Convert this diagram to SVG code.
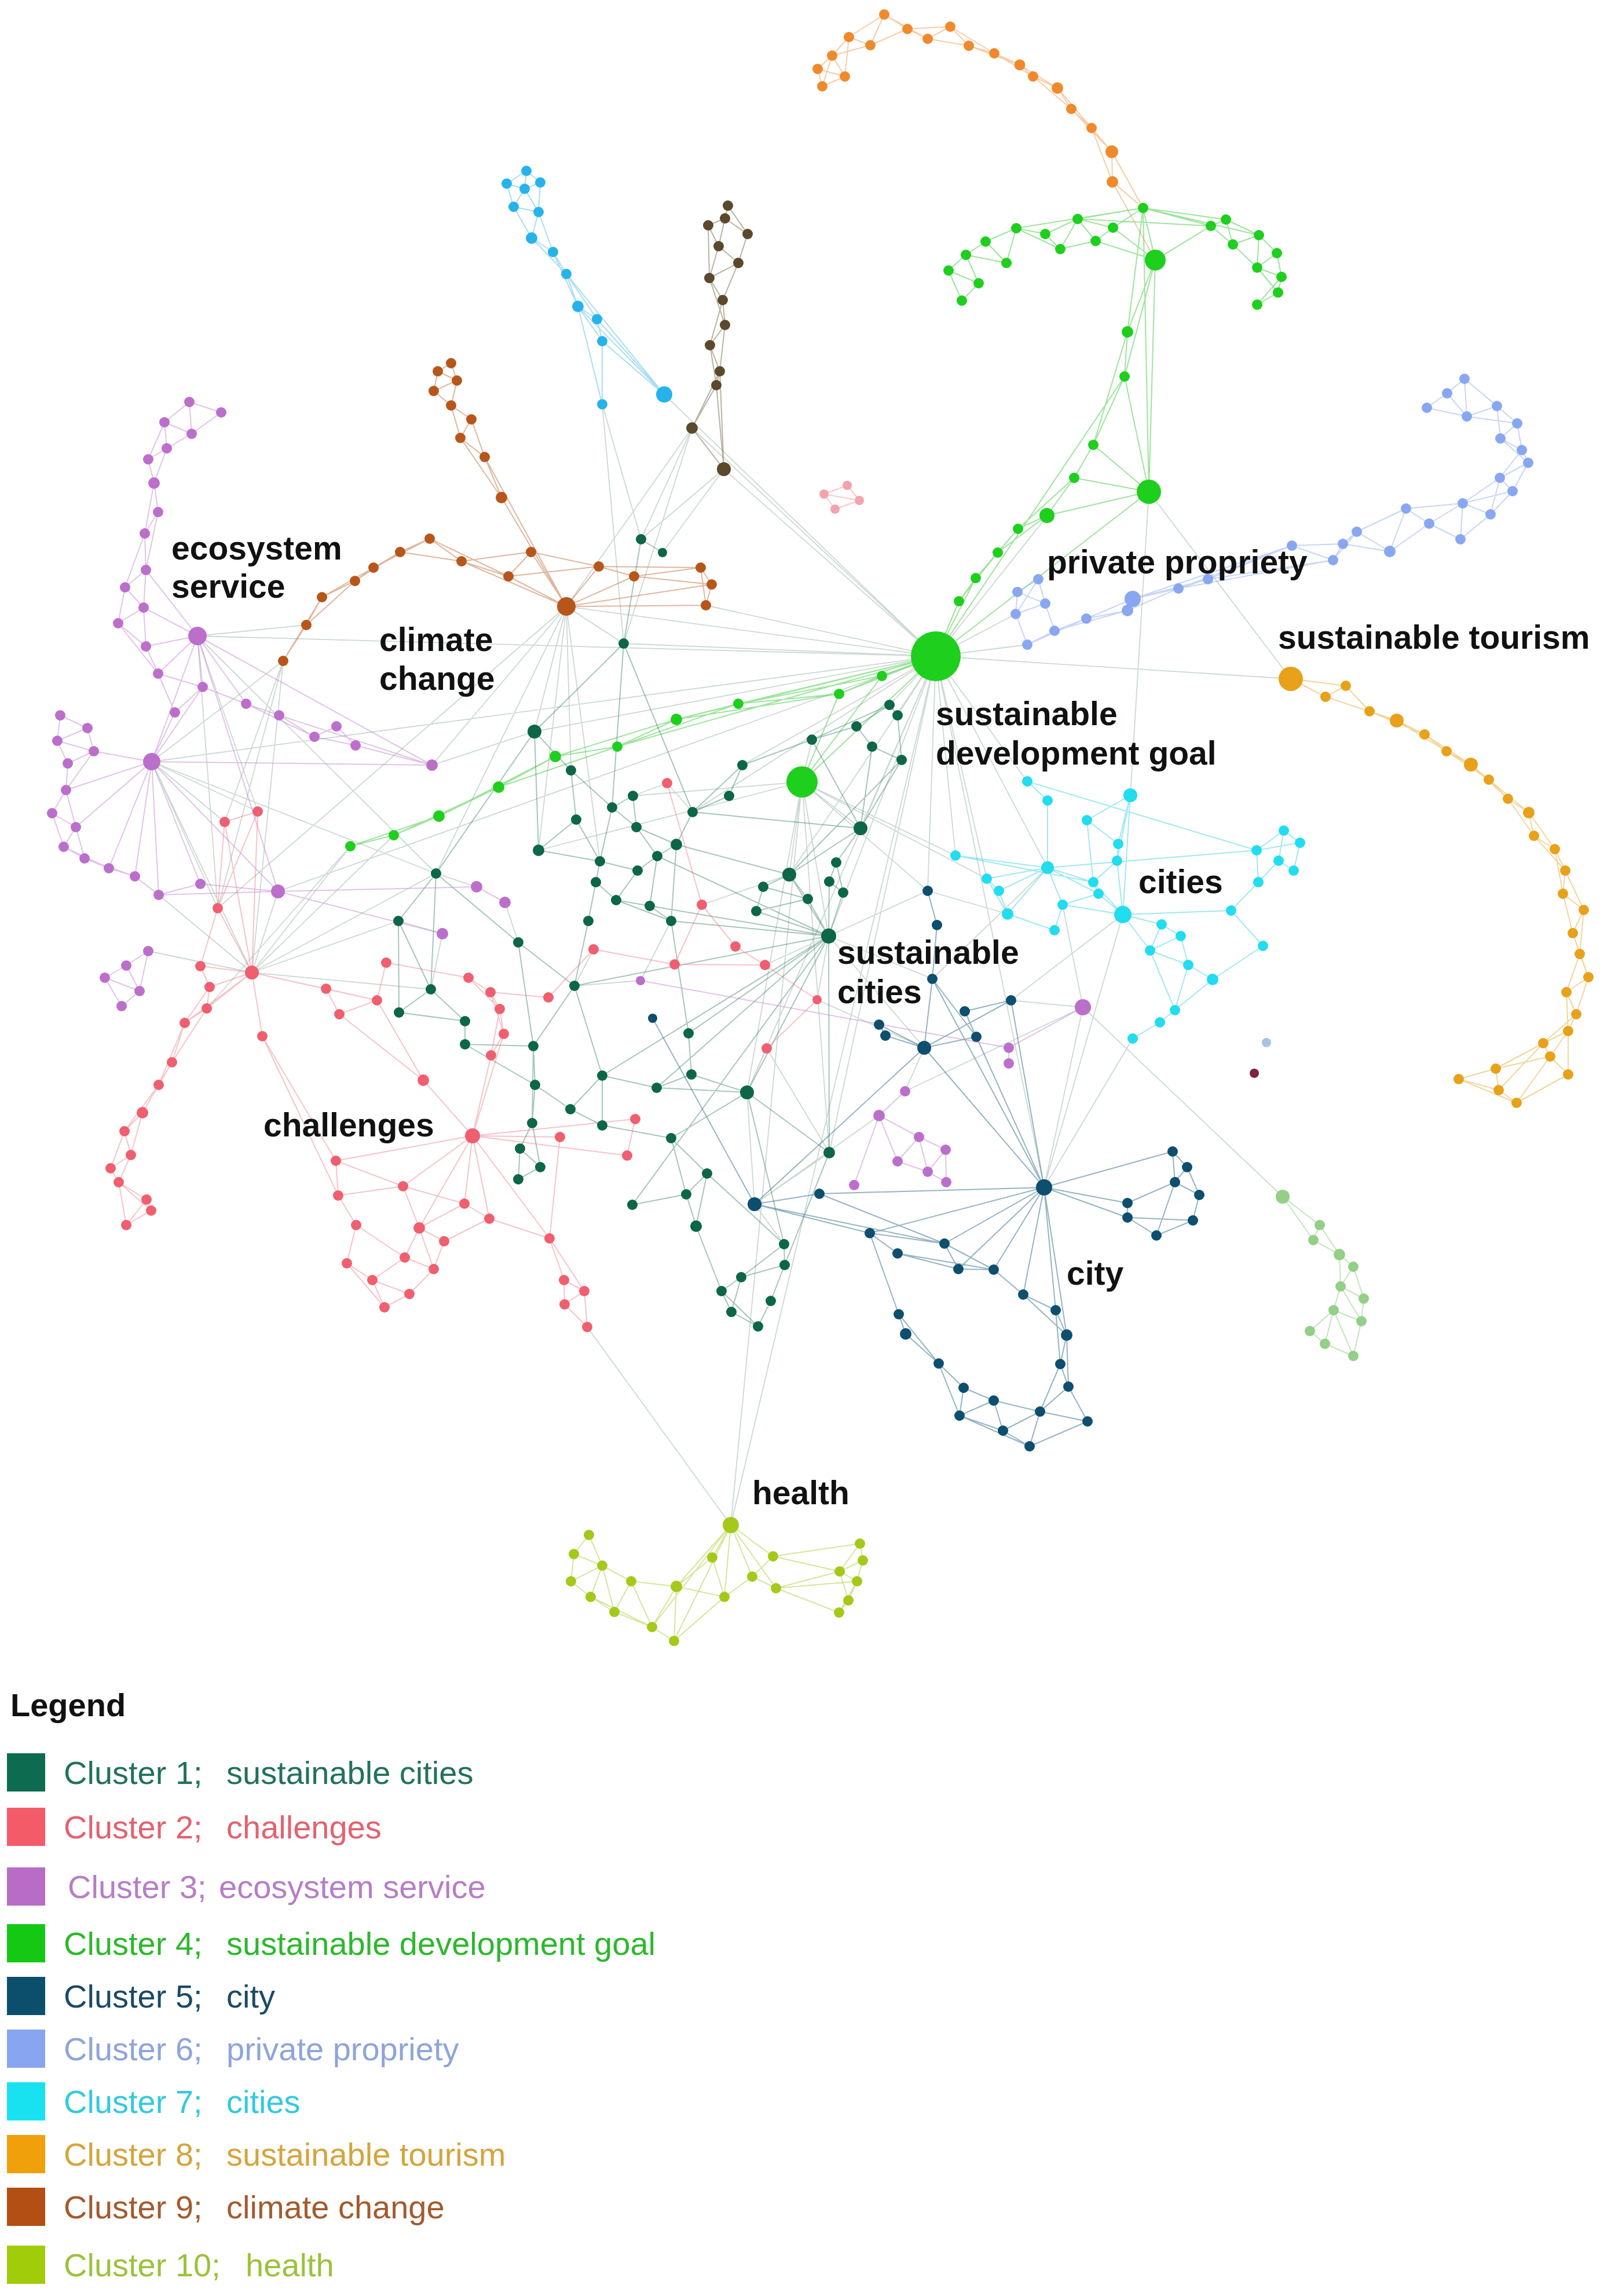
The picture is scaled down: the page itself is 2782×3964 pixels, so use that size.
<svg xmlns="http://www.w3.org/2000/svg" width="2782" height="3964" viewBox="0 0 2782 3964">
<style>
.e{fill:none;stroke-width:2;stroke-linecap:round;stroke-linejoin:round}
.ex{stroke:#9ab3a5;stroke-opacity:.5;stroke-width:1.8}
.eo{stroke:#ef9a50;stroke-opacity:.5}
.e4{stroke:#3ec93e;stroke-opacity:.5}
.e6{stroke:#9bb3ef;stroke-opacity:.55}
.e8{stroke:#e4ad3a;stroke-opacity:.5}
.e7{stroke:#40d3e6;stroke-opacity:.5}
.e5{stroke:#2b6a85;stroke-opacity:.5}
.e1{stroke:#3c806a;stroke-opacity:.45}
.e2{stroke:#ec7b88;stroke-opacity:.45}
.e3{stroke:#c48ad0;stroke-opacity:.5}
.e9{stroke:#c07040;stroke-opacity:.5}
.es{stroke:#52bde8;stroke-opacity:.5}
.ek{stroke:#76674a;stroke-opacity:.5}
.ep{stroke:#f2a4ad;stroke-opacity:.6}
.el{stroke:#9fd294;stroke-opacity:.6}
.e10{stroke:#b3d14a;stroke-opacity:.55}
.n1{fill:#0d6647}.n2{fill:#ef5f6f}.n3{fill:#bb6fcb}.n4{fill:#1ecf1e}.n5{fill:#0e4e6e}
.n6{fill:#89a7f0}.n7{fill:#22dcef}.n8{fill:#e7a11a}.n9{fill:#b7561b}.n10{fill:#a4c91b}
.no{fill:#ef8a2c}.ns{fill:#27b3ea}.nk{fill:#5b492d}.nl{fill:#93cf87}.np{fill:#f2a4ad}
.lbl{font-family:'Liberation Sans',Arial,sans-serif;font-weight:bold;font-size:57px;fill:#111}
.lg{font-family:'Liberation Sans',Arial,sans-serif;font-size:56px}
</style>
<rect width="2782" height="3964" fill="#fff"/>
<g id="connectors">
<path class="e ex" d="M1616 1133L1147 681M1616 1133L1250 810M1616 1133L1195 739M1616 1133L978 1047M1616 1133L341 1098M1616 1133L1219 1045M1616 1133L923 1263M1616 1133L1077 1111M1616 1133L262 1315M1616 1133L480 1539M1616 1133L1431 1616M1616 1133L1290 1886M1616 1133L1803 2050M1616 1133L1809 1498M1616 1133L1774 1349M1616 1133L2229 1172M1616 1133L1774 1113M1616 1133L1754 1060M1616 1133L1536 1217M1616 1133L1550 1235M1616 1133L1486 1430M1616 1133L1196 1402M1616 1133L1650 1477M1616 1133L1602 1538M1616 1133L1704 1517M1616 1133L1363 1510M1616 1133L1282 1321M1616 1133L1432 1990M1984 849L2229 1172M1984 849L1952 1373M1385 1350L1262 2633M1616 1133L1262 2633M1385 1350L1431 1616M1385 1350L1363 1510M1385 1350L1290 1886M1385 1350L1432 1990M1385 1350L1486 1430M1385 1350L1402 1277M1385 1350L1650 1477M1385 1350L1704 1517M1385 1350L1602 1538M1385 1350L1093 1374M1385 1350L930 1468M978 1047L923 1263M978 1047L930 1468M978 1047L376 1568M978 1047L753 1508M978 1047L746 1321M978 1047L1077 1111M978 1047L986 1330M978 1047L1036 1487M1195 739L978 1047M1195 739L1107 931M1195 739L1077 1111M1250 810L1107 931M1250 810L1144 954M1040 698L1077 1111M1040 698L1107 931M341 1098L529 1079M341 1098L445 1401M341 1098L376 1568M341 1098L753 1508M262 1315L445 1401M262 1315L388 1419M262 1315L376 1568M262 1315L435 1679M262 1315L489 1141M262 1315L753 1508M435 1679L605 1461M435 1679L680 1442M435 1679L480 1539M435 1679L274 1545M435 1679L256 1642M435 1679L753 1508M435 1679L744 1708M435 1679L688 1590M435 1679L489 1141M489 1141L388 1419M489 1141L376 1568M605 1461L357 1741M823 1531L753 1508M872 1558L895 1627M764 1612L688 1590M764 1612L744 1708M1025 1639L992 1702M1106 1693L1159 1590M1106 1693L992 1702M1431 1616L1610 1690M1431 1616L1596 1809M1431 1616L1602 1538M1431 1616L1411 1726M1803 2050L1939 1579M1803 2050L1956 1793M1803 2050L1870 1739M1870 1739L2215 2066M1870 1739L1746 1727M1870 1739L1835 1562M1746 1727L1939 1579M1303 2079L1290 1886M1303 2079L1432 1990M1303 2079L1354 2148M1324 1810L1290 1886M1324 1810L1432 1990M1262 2633L1014 2291M1563 1884L1870 1739M1518 1926L1303 2079M1596 1809L1563 1884M1411 1726L1596 1809M1321 1666L1602 1538M1212 1562L1363 1510M746 1321L923 1263M1152 1352L1196 1402M1152 1352L1093 1374M1610 1690L1809 1498M1602 1538L1740 1578M1616 1133L1809 890"/>
<path class="e eo" d="M1527 25L1567 50L1602 67L1641 46L1673 79L1717 92L1761 112L1784 132L1826 152L1850 188L1885 221L1920 262L1921 314L1974 359M1567 50L1641 46M1602 67L1673 79M1641 46L1717 92M1673 79L1761 112M1717 92L1784 132M1761 112L1826 152M1784 132L1850 188M1826 152L1885 221M1850 188L1920 262M1885 221L1921 314M1920 262L1974 359M1921 314L1995 449M1527 25L1466 64L1503 78L1527 25L1602 67M1503 78L1567 50M1466 64L1437 96L1412 119L1420 149L1459 132L1437 96L1503 78M1412 119L1459 132M1437 96L1420 149M1466 64L1459 132"/>
<path class="e e4" d="M1974 359L1922 393L1861 378L1805 404L1755 394L1702 417L1668 440L1638 467L1661 519M1974 359L1861 378M1922 393L1892 416L1831 430L1805 404M1861 378L1892 416M1861 378L1831 430M1831 430L1755 394L1738 454L1702 417M1755 394L1702 417M1738 454L1668 440L1690 489L1638 467M1690 489L1661 519M1974 359L1995 449L1922 393M1995 449L1892 416M1974 359L2091 390L2117 379L2174 406L2205 437L2213 478L2207 505L2171 526M1995 449L2091 390L2129 422L2117 379M2129 422L2174 406L2171 462L2129 422M2171 462L2205 437M2171 462L2213 478M2171 462L2207 505M2213 478L2171 526M1974 359L2117 379M1974 359L1755 394M1974 359L2174 406M1861 378L2091 390M1974 359L1947 573L1942 650L1888 768L1855 825L1808 890L1758 913L1723 954L1685 998L1656 1038L1616 1133M1995 449L1947 573M1995 449L1942 650M1947 573L1888 768M1942 650L1984 849M1888 768L1984 849L1855 825M1995 449L1984 849M1974 359L1984 849M1984 849L1808 890M1855 825L1758 913M1808 890L1723 954M1758 913L1685 998M1723 954L1656 1038M1685 998L1616 1133M1984 849L1616 1133M1942 650L1616 1133M1616 1133L1523 1167L1449 1198L1275 1215L1168 1242L1066 1289L959 1306L861 1359L758 1409L680 1442L605 1461M1616 1133L1449 1198M1523 1167L1275 1215M1449 1198L1168 1242M1275 1215L1066 1289M1168 1242L959 1306M1066 1289L861 1359M959 1306L758 1409M861 1359L680 1442M758 1409L605 1461M1616 1133L1385 1350M1523 1167L1385 1350M1449 1198L1385 1350M1616 1133L1275 1215M1616 1133L1168 1242M1616 1133L1066 1289"/>
<path class="e e6" d="M2529 654L2499 679L2464 704M2529 654L2533 719L2499 679M2464 704L2533 719L2585 701L2529 654M2585 701L2620 731L2591 757L2628 777L2639 799L2590 825L2612 848L2574 888L2526 869L2468 904L2428 878L2400 952L2343 918L2319 939L2302 967L2231 942L2086 1000L2035 1016L1956 1034L1947 1054L1876 1068L1821 1089L1774 1113M2533 719L2620 731M2585 701L2591 757M2620 731L2628 777M2591 757L2639 799M2628 777L2590 825M2639 799L2612 848M2590 825L2574 888M2590 825L2526 869M2612 848L2526 869M2574 888L2522 931L2526 869M2522 931L2468 904M2468 904L2400 952M2526 869L2428 878M2428 878L2343 918M2400 952L2319 939M2343 918L2302 967M2319 939L2231 942M2302 967L2086 1000M2231 942L2035 1016M2086 1000L1956 1034M2035 1016L1947 1054M1956 1034L1876 1068M1947 1054L1821 1089M1876 1068L1774 1113M1757 1022L1793 1000L1805 1042L1754 1060L1757 1022L1805 1042M1793 1000L1754 1060M1754 1060L1774 1113M1805 1042L1821 1089M2231 942L1956 1034M2302 967L2035 1016"/>
<path class="e e8" d="M2229 1172L2289 1203L2324 1184L2365 1228L2412 1244L2460 1268L2498 1297L2540 1320L2571 1346L2604 1379L2640 1403L2649 1443L2685 1466L2703 1503L2699 1543L2735 1571L2716 1611L2728 1647L2743 1687L2705 1713L2722 1751L2708 1780L2665 1801L2677 1824L2708 1855M2229 1172L2324 1184L2365 1228M2289 1203L2412 1244L2498 1297L2571 1346L2640 1403L2685 1466L2699 1543L2716 1611L2743 1687L2722 1751L2665 1801M2365 1228L2460 1268L2540 1320L2604 1379L2649 1443L2703 1503L2735 1571L2728 1647L2705 1713L2708 1780L2677 1824M2665 1801L2583 1845L2519 1863L2588 1882L2619 1904L2708 1855M2677 1824L2583 1845L2588 1882M2677 1824L2619 1904M2519 1863L2619 1904M2665 1801L2588 1882M2708 1780L2708 1855"/>
<path class="e e7" d="M1774 1349L1809 1382M1952 1373L1931 1457L1929 1486L1939 1579M1952 1373L1929 1486M1877 1416L1931 1457M1877 1416L1888 1523L1929 1486M1952 1373L1939 1579M1809 1498L1704 1517L1725 1538L1809 1498L1888 1523L1897 1543L1809 1498L1740 1578L1725 1538M1704 1517L1740 1578L1821 1606L1835 1562L1897 1543M1809 1498L1835 1562M1650 1477L1809 1498M1888 1523L1939 1579L1897 1543M1835 1562L1939 1579M1939 1579L2006 1596L2039 1616L2052 1666L2094 1691L2029 1744L2003 1765L1956 1793M1939 1579L1986 1641L2052 1666L2029 1744L1986 1641L2006 1596M2039 1616L1986 1641M2126 1572L2173 1523L2170 1468L2217 1434L2245 1455L2234 1503L2208 1486L2173 1523M2170 1468L2245 1455M2217 1434L2208 1486M2126 1572L2181 1633L2094 1691M1939 1579L2126 1572M1809 1498L2170 1468M1774 1349L2170 1468M1877 1416L1952 1373M1650 1477L1888 1523M1809 1382L1809 1498"/>
<path class="e e5" d="M1602 1538L1618 1597L1610 1690L1596 1809L1686 1790L1666 1746L1746 1727L1596 1809M1610 1690L1686 1790M1518 1769L1529 1788L1596 1809L1518 1769M1596 1809L1803 2050L1610 1690M1686 1790L1803 2050L1746 1727M1803 2050L2025 1988L2050 2015L2071 2063L2060 2107L1997 2133L1947 2102L1947 2077L2029 2041L2025 1988M2050 2015L2029 2041L2071 2063M1947 2102L2060 2107M2029 2041L1997 2133M1803 2050L1947 2077M1803 2050L1947 2102M1803 2050L1502 2129M1803 2050L1631 2147M1803 2050L1655 2191M1803 2050L1716 2192M1803 2050L1767 2235M1803 2050L1823 2262M1803 2050L1842 2305M1803 2050L1415 2061M1303 2079L1415 2061L1631 2147M1303 2079L1502 2129L1550 2164L1655 2191L1716 2192L1767 2235L1823 2262L1842 2305L1831 2355L1845 2394L1878 2454L1796 2437L1778 2497L1732 2470L1657 2444L1621 2354L1564 2303L1552 2269L1621 2354M1303 2079L1631 2147L1716 2192M1502 2129L1631 2147L1655 2191M1550 2164L1716 2192M1767 2235L1842 2305M1823 2262L1831 2355M1842 2305L1845 2394M1831 2355L1796 2437L1845 2394M1878 2454L1778 2497M1796 2437L1732 2470M1657 2444L1778 2497M1621 2354L1664 2396L1716 2418L1796 2437M1664 2396L1657 2444L1716 2418L1732 2470M1502 2129L1552 2269M1303 2079L1596 1809M1127 1758L1303 2079"/>
<path class="e e1" d="M1107 931L1144 954M1107 931L1077 1111L1057 1394M1077 1111L1196 1402M923 1263L986 1330L1057 1394L1093 1374L1099 1428L1057 1394L1036 1487L995 1415L986 1330M923 1263L930 1468L995 1415M923 1263L753 1508M1099 1428L1168 1458L1196 1402M1099 1428L1135 1478L1168 1458M1196 1402L1282 1321L1259 1374L1196 1402M930 1468L1036 1487L1101 1503L1135 1478L1122 1564L1064 1554L1101 1503M1036 1487L1029 1523L1064 1554L1159 1590L1122 1564M1029 1523L1016 1590L992 1702M1159 1590L1189 1784M753 1508L688 1590L744 1708L753 1508L895 1627L992 1702L921 1806L895 1627M688 1590L689 1748L744 1708L803 1763L689 1748M803 1763L803 1803L921 1806M803 1803L924 1873L921 1806L919 1939L924 1873L985 1915M992 1702L1040 1857L1134 1878L1194 1855L1290 1886L1134 1878M1194 1855L1189 1784M1040 1857L985 1915L1040 1943L1159 1965L1290 1886L1432 1990M1040 1857L1040 1943M919 1939L898 1983L933 2015L895 2036L898 1983M919 1939L933 2015M1159 1965L1221 2026L1185 2062L1159 1965M1185 2062L1092 2080M1221 2026L1202 2117L1185 2062M1221 2026L1354 2148L1355 2184L1280 2205L1354 2148M1355 2184L1331 2246L1309 2290L1263 2265L1280 2205L1246 2229L1263 2265M1246 2229L1309 2290M1202 2117L1246 2229M1536 1217L1550 1235L1557 1312L1506 1289L1479 1254L1536 1217M1479 1254L1402 1277L1486 1430L1506 1289M1557 1312L1486 1430M1282 1321L1402 1277M1486 1430L1444 1489L1432 1522L1456 1541L1444 1489M1432 1522L1431 1616L1456 1541M1486 1430L1363 1510L1318 1531L1306 1573L1395 1552L1363 1510M1318 1531L1395 1552L1431 1616L1363 1510M1306 1573L1431 1616M1431 1616L1290 1886M1431 1616L1189 1784M1431 1616L1432 1990M1431 1616L1159 1590M1431 1616L1122 1564M1431 1616L1135 1478M1363 1510L1168 1458M1486 1430L1196 1402M1431 1616L1134 1878M1431 1616L1040 1857M1431 1616L992 1702M1431 1616L1092 2080M1290 1886L1354 2148M1432 1990L1355 2184M1168 1458L1159 1590M1077 1111L923 1263M1536 1217L1402 1277M1557 1312L1363 1510"/>
<path class="e e2" d="M445 1401L388 1419L376 1568L445 1401L435 1679L388 1419M376 1568L435 1679L346 1668L376 1568M346 1668L362 1704L357 1741L319 1766L297 1834L274 1873L246 1921L215 1953L226 1994L191 2017L205 2041L253 2071L261 2090L218 2115L205 2041M435 1679L362 1704M435 1679L357 1741M435 1679L319 1766M362 1704L319 1766M357 1741L297 1834M319 1766L274 1873M297 1834L246 1921M274 1873L215 1953M246 1921L226 1994M215 1953L191 2017M226 1994L205 2041M205 2041L261 2090M253 2071L218 2115M435 1679L453 1789L580 2004M453 1789L584 2064M435 1679L563 1707L586 1751L651 1727L563 1707M435 1679L651 1727L667 1662M651 1727L731 1865L816 1961M586 1751L731 1865M580 2004L584 2064L615 2115L599 2181L643 2210L664 2257L707 2234L749 2191L767 2143L845 2104L802 2078L816 1961L845 2104M580 2004L696 2048L724 2120L767 2143M696 2048L802 2078L724 2120L699 2171L749 2191M584 2064L696 2048M615 2115L699 2171L643 2210L707 2234M599 2181L664 2257M724 2120L749 2191M816 1961L724 2120M816 1961L696 2048M816 1961L580 2004M845 2104L949 2138L974 2210L1009 2229L949 2138M974 2210L975 2252L1014 2291L1009 2229L975 2252M816 1961L949 2138M809 1688L847 1713L863 1742L870 1785L848 1822L863 1742M809 1688L863 1742M847 1713L870 1785M816 1961L848 1822M816 1961L870 1785M816 1961L967 1963L949 2138M816 1961L1097 1932L1083 1995M816 1961L1083 1995M847 1713L947 1722L1025 1639M1025 1639L1165 1665L1321 1666L1270 1634M1212 1562L1270 1634M1321 1666L1411 1726L1324 1810M1165 1665L1212 1562M667 1662L809 1688M1152 1352L1212 1562"/>
<path class="e e3" d="M327 694L382 712L331 749L327 694L284 729L331 749L288 774L284 729L256 793L288 774L266 834L256 793M266 834L273 884L250 921L252 984L216 1014L248 1049L204 1076L252 1116L273 1163L350 1186L302 1230L273 1163M266 834L250 921M273 884L252 984M250 921L216 1014M252 984L248 1049M216 1014L204 1076M248 1049L252 1116M204 1076L273 1163M341 1098L248 1049M341 1098L252 984M341 1098L252 1116M341 1098L273 1163M341 1098L350 1186M341 1098L425 1215L482 1235L543 1272L581 1254L614 1287L543 1272M350 1186L425 1215L543 1272M341 1098L262 1315L302 1230M262 1315L350 1186M341 1098L746 1321M482 1235L746 1321M614 1287L746 1321M104 1235L151 1257L162 1297L117 1318L99 1279L104 1235M151 1257L99 1279L162 1297M117 1318L114 1364L90 1404L131 1428L110 1462L146 1482L188 1499L233 1513L274 1545L346 1526L480 1539M162 1297L114 1364L131 1428L146 1482L233 1513M90 1404L110 1462L188 1499M274 1545L480 1539M262 1315L274 1545M262 1315L346 1526M262 1315L233 1513M262 1315L188 1499M262 1315L131 1428M262 1315L114 1364M262 1315L162 1297M262 1315L480 1539M256 1642L218 1667L181 1688L210 1737L241 1711L256 1642M218 1667L241 1711L181 1688M1563 1884L1518 1926L1587 1963L1633 1985L1634 2041L1602 2023L1550 2005L1518 1926M1587 1963L1550 2005M1587 1963L1602 2023L1633 1985M1518 1926L1475 2046M1742 1809L1742 1836M1870 1739L1742 1809M262 1315L746 1321M341 1098L480 1539M480 1539L823 1531L872 1558M480 1539L764 1612M1106 1693L1742 1809"/>
<path class="e e9" d="M779 627L756 641L789 657L779 627M756 641L749 675L789 657L779 700L749 675M779 700L814 724L795 756L779 700M814 724L837 789L795 756L866 859L837 789L978 1047L866 859M978 1047L917 953L878 995L797 969L742 930L691 953L645 980L613 1003L556 1031L529 1079L489 1141M917 953L797 969M878 995L742 930M797 969L691 953M742 930L645 980M691 953L613 1003M645 980L556 1031M613 1003L529 1079M556 1031L489 1141M978 1047L878 995M978 1047L797 969M978 1047L1034 978L1095 995L1210 980L1229 1009L1219 1045L978 1047L1095 995M1034 978L1210 980M1095 995L1229 1009M1210 980L1219 1045M978 1047L1229 1009M917 953L1034 978M878 995L1034 978"/>
<path class="e es" d="M909 295L875 317L906 326L909 295L933 315L906 326L887 357L875 317M906 326L930 366L933 315M887 357L930 366L918 411L887 357M930 366L955 435L918 411L978 473L955 435L998 529L978 473L1031 551L998 529L1040 589L1031 551L1147 681L1040 589M998 529L1147 681M978 473L1147 681M1040 589L1040 698M998 529L1040 698"/>
<path class="e ek" d="M1257 355L1252 377L1223 389L1241 425L1252 377L1291 404L1257 355M1291 404L1275 454L1241 425L1225 480L1223 389M1275 454L1225 480L1248 518L1275 454M1248 518L1252 561L1226 596L1243 641L1237 665L1195 739L1250 810L1237 665M1225 480L1252 561M1248 518L1226 596M1252 561L1243 641M1226 596L1237 665M1243 641L1195 739M1243 641L1250 810"/>
<path class="e ep" d="M1423 853L1463 838L1484 864L1442 879ZM1423 853L1484 864"/>
<path class="e el" d="M2215 2066L2279 2115L2268 2141L2215 2066M2279 2115L2313 2166L2268 2141M2313 2166L2337 2187L2315 2221L2313 2166M2337 2187L2355 2242L2315 2221L2303 2262L2351 2281L2355 2242M2303 2262L2262 2298L2288 2320L2303 2262L2337 2341L2351 2281M2288 2320L2337 2341M2315 2221L2351 2281"/>
<path class="e e10" d="M1262 2633L1230 2689L1168 2739L1251 2757L1230 2689M1262 2633L1251 2757M1262 2633L1299 2722L1335 2687L1262 2633L1340 2742L1299 2722L1251 2757M1262 2633L1168 2739M1262 2633L1126 2809M1262 2633L1164 2833M1168 2739L1126 2809L1164 2833L1168 2739L1090 2730L1126 2809L1061 2783L1090 2730L1040 2703L1061 2783L1020 2757L1040 2703L1017 2650L991 2683L1040 2703L986 2730L1020 2757L1126 2809M991 2683L986 2730M1251 2757L1164 2833M1335 2687L1450 2713L1340 2742L1480 2730M1340 2742L1449 2784M1485 2665L1490 2694L1450 2713L1485 2665M1490 2694L1480 2730L1450 2713L1465 2763L1480 2730L1449 2784L1465 2763M1335 2687L1485 2665"/>
</g>
<g id="nodes">
<g id="cluster-orange" class="no">
<circle cx="1527" cy="25" r="9"/><circle cx="1466" cy="64" r="9"/><circle cx="1503" cy="78" r="9"/><circle cx="1567" cy="50" r="9"/><circle cx="1602" cy="67" r="9"/><circle cx="1641" cy="46" r="9"/><circle cx="1673" cy="79" r="9"/><circle cx="1717" cy="92" r="9"/><circle cx="1761" cy="112" r="9.5"/><circle cx="1784" cy="132" r="9"/><circle cx="1826" cy="152" r="10"/><circle cx="1850" cy="188" r="9"/><circle cx="1885" cy="221" r="9"/><circle cx="1920" cy="262" r="11"/><circle cx="1921" cy="314" r="10"/><circle cx="1437" cy="96" r="9"/><circle cx="1412" cy="119" r="9"/><circle cx="1459" cy="132" r="9"/><circle cx="1420" cy="149" r="9"/>
</g>
<g id="cluster-4" class="n4">
<circle cx="1974" cy="359" r="9"/><circle cx="1995" cy="449" r="18"/><circle cx="1922" cy="393" r="9"/><circle cx="1861" cy="378" r="9"/><circle cx="1892" cy="416" r="9"/><circle cx="1831" cy="430" r="9"/><circle cx="1805" cy="404" r="9"/><circle cx="1755" cy="394" r="9"/><circle cx="1738" cy="454" r="9"/><circle cx="1702" cy="417" r="9"/><circle cx="1668" cy="440" r="9"/><circle cx="1638" cy="467" r="9"/><circle cx="1690" cy="489" r="9"/><circle cx="1661" cy="519" r="9"/><circle cx="2091" cy="390" r="9"/><circle cx="2117" cy="379" r="9"/><circle cx="2129" cy="422" r="9"/><circle cx="2174" cy="406" r="9"/><circle cx="2205" cy="437" r="9"/><circle cx="2171" cy="462" r="9"/><circle cx="2213" cy="478" r="9"/><circle cx="2207" cy="505" r="9"/><circle cx="2171" cy="526" r="9"/>
<circle cx="1947" cy="573" r="10"/><circle cx="1942" cy="650" r="9"/><circle cx="1888" cy="768" r="9"/><circle cx="1984" cy="849" r="21"/><circle cx="1855" cy="825" r="9"/><circle cx="1808" cy="890" r="13"/><circle cx="1758" cy="913" r="9"/><circle cx="1723" cy="954" r="9"/><circle cx="1685" cy="998" r="9"/><circle cx="1656" cy="1038" r="9"/>
<circle cx="1523" cy="1167" r="9"/><circle cx="1449" cy="1198" r="9"/><circle cx="1275" cy="1215" r="9"/><circle cx="1168" cy="1242" r="10"/><circle cx="1066" cy="1289" r="9"/><circle cx="959" cy="1306" r="10"/><circle cx="861" cy="1359" r="10"/><circle cx="758" cy="1409" r="10"/><circle cx="680" cy="1442" r="9"/><circle cx="605" cy="1461" r="9"/>
<circle cx="1385" cy="1350" r="27"/>
</g>
<g id="cluster-6" class="n6">
<circle cx="2529" cy="654" r="9"/><circle cx="2499" cy="679" r="9"/><circle cx="2464" cy="704" r="9"/><circle cx="2533" cy="719" r="9"/><circle cx="2585" cy="701" r="9"/><circle cx="2620" cy="731" r="9"/><circle cx="2591" cy="757" r="9"/><circle cx="2628" cy="777" r="9"/><circle cx="2639" cy="799" r="9"/><circle cx="2590" cy="825" r="9"/><circle cx="2612" cy="848" r="9"/><circle cx="2574" cy="888" r="9"/><circle cx="2526" cy="869" r="9"/><circle cx="2468" cy="904" r="9"/><circle cx="2428" cy="878" r="9"/><circle cx="2522" cy="931" r="9"/><circle cx="2400" cy="952" r="10"/><circle cx="2343" cy="918" r="9"/><circle cx="2319" cy="939" r="9"/><circle cx="2302" cy="967" r="9"/><circle cx="2231" cy="942" r="9"/><circle cx="2086" cy="1000" r="9"/><circle cx="2035" cy="1016" r="9"/><circle cx="1947" cy="1054" r="10"/><circle cx="1876" cy="1068" r="9"/><circle cx="1821" cy="1089" r="9"/><circle cx="1774" cy="1113" r="9"/><circle cx="1757" cy="1022" r="9"/><circle cx="1793" cy="1000" r="9"/><circle cx="1805" cy="1042" r="9"/><circle cx="1754" cy="1060" r="9"/>
</g>
<g id="cluster-8" class="n8">
<circle cx="2289" cy="1203" r="9"/><circle cx="2324" cy="1184" r="9"/><circle cx="2365" cy="1228" r="9"/><circle cx="2412" cy="1244" r="12"/><circle cx="2460" cy="1268" r="9"/><circle cx="2498" cy="1297" r="9"/><circle cx="2540" cy="1320" r="12"/><circle cx="2571" cy="1346" r="9"/><circle cx="2604" cy="1379" r="9"/><circle cx="2640" cy="1403" r="10"/><circle cx="2649" cy="1443" r="9"/><circle cx="2685" cy="1466" r="9"/><circle cx="2703" cy="1503" r="9"/><circle cx="2699" cy="1543" r="9"/><circle cx="2735" cy="1571" r="9"/><circle cx="2716" cy="1611" r="9"/><circle cx="2728" cy="1647" r="9"/><circle cx="2743" cy="1687" r="9"/><circle cx="2705" cy="1713" r="9"/><circle cx="2722" cy="1751" r="9"/><circle cx="2708" cy="1780" r="9"/><circle cx="2665" cy="1801" r="9"/><circle cx="2677" cy="1824" r="9"/><circle cx="2708" cy="1855" r="9"/><circle cx="2583" cy="1845" r="9"/><circle cx="2519" cy="1863" r="9"/><circle cx="2588" cy="1882" r="9"/><circle cx="2619" cy="1904" r="9"/>
</g>
<g id="cluster-7" class="n7">
<circle cx="1774" cy="1349" r="9"/><circle cx="1809" cy="1382" r="9"/><circle cx="1952" cy="1373" r="12"/><circle cx="1877" cy="1416" r="9"/><circle cx="1931" cy="1457" r="9"/><circle cx="1929" cy="1486" r="9"/><circle cx="1809" cy="1498" r="11"/><circle cx="1704" cy="1517" r="9"/><circle cx="1725" cy="1538" r="9"/><circle cx="1650" cy="1477" r="9"/><circle cx="1888" cy="1523" r="9"/><circle cx="1897" cy="1543" r="9"/><circle cx="1835" cy="1562" r="9"/><circle cx="1740" cy="1578" r="10"/><circle cx="1821" cy="1606" r="9"/><circle cx="2006" cy="1596" r="9"/><circle cx="2039" cy="1616" r="9"/><circle cx="1986" cy="1641" r="9"/><circle cx="2052" cy="1666" r="9"/><circle cx="2094" cy="1691" r="10"/><circle cx="2029" cy="1744" r="9"/><circle cx="2003" cy="1765" r="9"/><circle cx="1956" cy="1793" r="9"/><circle cx="2126" cy="1572" r="9"/><circle cx="2173" cy="1523" r="9"/><circle cx="2170" cy="1468" r="9"/><circle cx="2217" cy="1434" r="9"/><circle cx="2245" cy="1455" r="9"/><circle cx="2208" cy="1486" r="9"/><circle cx="2234" cy="1503" r="9"/><circle cx="2181" cy="1633" r="9"/>
</g>
<g id="cluster-5" class="n5">
<circle cx="1602" cy="1538" r="9"/><circle cx="1618" cy="1597" r="9"/><circle cx="1610" cy="1690" r="9"/><circle cx="1746" cy="1727" r="9"/><circle cx="1666" cy="1746" r="9"/><circle cx="1686" cy="1790" r="9"/><circle cx="1518" cy="1769" r="9"/><circle cx="1529" cy="1788" r="9"/><circle cx="1596" cy="1809" r="12"/><circle cx="2025" cy="1988" r="9"/><circle cx="2050" cy="2015" r="9"/><circle cx="2029" cy="2041" r="9"/><circle cx="2071" cy="2063" r="9"/><circle cx="1947" cy="2077" r="9"/><circle cx="1947" cy="2102" r="9"/><circle cx="2060" cy="2107" r="9"/><circle cx="1997" cy="2133" r="9"/><circle cx="1415" cy="2061" r="9"/><circle cx="1303" cy="2079" r="12"/><circle cx="1502" cy="2129" r="9"/><circle cx="1550" cy="2164" r="9"/><circle cx="1631" cy="2147" r="9"/><circle cx="1655" cy="2191" r="9"/><circle cx="1716" cy="2192" r="9"/><circle cx="1767" cy="2235" r="9"/><circle cx="1823" cy="2262" r="9"/><circle cx="1842" cy="2305" r="10"/><circle cx="1552" cy="2269" r="9"/><circle cx="1564" cy="2303" r="10"/><circle cx="1621" cy="2354" r="9"/><circle cx="1664" cy="2396" r="9"/><circle cx="1716" cy="2418" r="9"/><circle cx="1831" cy="2355" r="9"/><circle cx="1845" cy="2394" r="9"/><circle cx="1796" cy="2437" r="9"/><circle cx="1878" cy="2454" r="9"/><circle cx="1657" cy="2444" r="9"/><circle cx="1732" cy="2470" r="9"/><circle cx="1778" cy="2497" r="9"/><circle cx="1127" cy="1758" r="8"/>
</g>
<g id="cluster-1" class="n1">
<circle cx="1107" cy="931" r="9"/><circle cx="1144" cy="954" r="8"/><circle cx="1077" cy="1111" r="9"/><circle cx="923" cy="1263" r="12"/><circle cx="986" cy="1330" r="9"/><circle cx="1093" cy="1374" r="9"/><circle cx="1057" cy="1394" r="9"/><circle cx="995" cy="1415" r="9"/><circle cx="1099" cy="1428" r="9"/><circle cx="1168" cy="1458" r="10"/><circle cx="1196" cy="1402" r="9"/><circle cx="930" cy="1468" r="10"/><circle cx="1036" cy="1487" r="9"/><circle cx="1135" cy="1478" r="9"/><circle cx="1101" cy="1503" r="9"/><circle cx="1029" cy="1523" r="9"/><circle cx="1064" cy="1554" r="9"/><circle cx="1122" cy="1564" r="9"/><circle cx="1016" cy="1590" r="9"/><circle cx="1159" cy="1590" r="9"/><circle cx="753" cy="1508" r="9"/><circle cx="688" cy="1590" r="9"/><circle cx="895" cy="1627" r="9"/><circle cx="992" cy="1702" r="9"/><circle cx="744" cy="1708" r="9"/><circle cx="689" cy="1748" r="9"/><circle cx="803" cy="1763" r="9"/><circle cx="803" cy="1803" r="9"/><circle cx="921" cy="1806" r="9"/><circle cx="1189" cy="1784" r="9"/><circle cx="924" cy="1873" r="9"/><circle cx="1040" cy="1857" r="9"/><circle cx="1134" cy="1878" r="9"/><circle cx="1194" cy="1855" r="9"/><circle cx="1290" cy="1886" r="12"/><circle cx="985" cy="1915" r="9"/><circle cx="919" cy="1939" r="9"/><circle cx="1040" cy="1943" r="9"/><circle cx="1159" cy="1965" r="9"/><circle cx="898" cy="1983" r="9"/><circle cx="933" cy="2015" r="9"/><circle cx="895" cy="2036" r="9"/><circle cx="1221" cy="2026" r="9"/><circle cx="1185" cy="2062" r="9"/><circle cx="1092" cy="2080" r="9"/><circle cx="1432" cy="1990" r="10"/><circle cx="1202" cy="2117" r="10"/><circle cx="1354" cy="2148" r="9"/><circle cx="1355" cy="2184" r="9"/><circle cx="1280" cy="2205" r="9"/><circle cx="1246" cy="2229" r="9"/><circle cx="1331" cy="2246" r="9"/><circle cx="1263" cy="2265" r="9"/><circle cx="1309" cy="2290" r="9"/><circle cx="1282" cy="1321" r="9"/><circle cx="1259" cy="1374" r="9"/><circle cx="1536" cy="1217" r="9"/><circle cx="1550" cy="1235" r="9"/><circle cx="1479" cy="1254" r="9"/><circle cx="1402" cy="1277" r="9"/><circle cx="1506" cy="1289" r="9"/><circle cx="1557" cy="1312" r="9"/><circle cx="1486" cy="1430" r="12"/><circle cx="1444" cy="1489" r="9"/><circle cx="1432" cy="1522" r="9"/><circle cx="1456" cy="1541" r="9"/><circle cx="1363" cy="1510" r="12"/><circle cx="1318" cy="1531" r="9"/><circle cx="1395" cy="1552" r="9"/><circle cx="1306" cy="1573" r="9"/>
</g>
<g id="cluster-2" class="n2">
<circle cx="445" cy="1401" r="9"/><circle cx="388" cy="1419" r="9"/><circle cx="376" cy="1568" r="9"/><circle cx="435" cy="1679" r="12"/><circle cx="346" cy="1668" r="9"/><circle cx="362" cy="1704" r="9"/><circle cx="357" cy="1741" r="9"/><circle cx="319" cy="1766" r="9"/><circle cx="453" cy="1789" r="9"/><circle cx="297" cy="1834" r="9"/><circle cx="274" cy="1873" r="9"/><circle cx="246" cy="1921" r="10"/><circle cx="215" cy="1953" r="9"/><circle cx="226" cy="1994" r="9"/><circle cx="191" cy="2017" r="9"/><circle cx="205" cy="2041" r="9"/><circle cx="253" cy="2071" r="9"/><circle cx="261" cy="2090" r="9"/><circle cx="218" cy="2115" r="9"/><circle cx="563" cy="1707" r="9"/><circle cx="586" cy="1751" r="9"/><circle cx="651" cy="1727" r="9"/><circle cx="667" cy="1662" r="9"/><circle cx="731" cy="1865" r="10"/><circle cx="580" cy="2004" r="9"/><circle cx="696" cy="2048" r="9"/><circle cx="584" cy="2064" r="9"/><circle cx="802" cy="2078" r="9"/><circle cx="845" cy="2104" r="9"/><circle cx="615" cy="2115" r="9"/><circle cx="724" cy="2120" r="10"/><circle cx="767" cy="2143" r="9"/><circle cx="699" cy="2171" r="9"/><circle cx="599" cy="2181" r="9"/><circle cx="749" cy="2191" r="9"/><circle cx="643" cy="2210" r="9"/><circle cx="707" cy="2234" r="9"/><circle cx="664" cy="2257" r="9"/><circle cx="949" cy="2138" r="9"/><circle cx="974" cy="2210" r="9"/><circle cx="1009" cy="2229" r="9"/><circle cx="975" cy="2252" r="9"/><circle cx="1014" cy="2291" r="9"/><circle cx="809" cy="1688" r="9"/><circle cx="847" cy="1713" r="9"/><circle cx="863" cy="1742" r="9"/><circle cx="870" cy="1785" r="9"/><circle cx="848" cy="1822" r="9"/><circle cx="947" cy="1722" r="9"/><circle cx="967" cy="1963" r="9"/><circle cx="1083" cy="1995" r="9"/><circle cx="1097" cy="1932" r="9"/><circle cx="1152" cy="1352" r="9"/><circle cx="1212" cy="1562" r="9"/><circle cx="1025" cy="1639" r="9"/><circle cx="1165" cy="1665" r="9"/><circle cx="1270" cy="1634" r="9"/><circle cx="1321" cy="1666" r="9"/><circle cx="1324" cy="1810" r="9"/><circle cx="1411" cy="1726" r="8"/>
</g>
<g id="cluster-3" class="n3">
<circle cx="327" cy="694" r="9"/><circle cx="382" cy="712" r="9"/><circle cx="284" cy="729" r="9"/><circle cx="331" cy="749" r="9"/><circle cx="288" cy="774" r="9"/><circle cx="256" cy="793" r="9"/><circle cx="266" cy="834" r="10"/><circle cx="273" cy="884" r="9"/><circle cx="250" cy="921" r="9"/><circle cx="252" cy="984" r="9"/><circle cx="216" cy="1014" r="9"/><circle cx="248" cy="1049" r="9"/><circle cx="204" cy="1076" r="9"/><circle cx="252" cy="1116" r="9"/><circle cx="273" cy="1163" r="9"/><circle cx="350" cy="1186" r="9"/><circle cx="302" cy="1230" r="9"/><circle cx="425" cy="1215" r="9"/><circle cx="482" cy="1235" r="9"/><circle cx="543" cy="1272" r="9"/><circle cx="581" cy="1254" r="9"/><circle cx="614" cy="1287" r="9"/><circle cx="746" cy="1321" r="10"/><circle cx="262" cy="1315" r="15"/><circle cx="104" cy="1235" r="9"/><circle cx="151" cy="1257" r="9"/><circle cx="99" cy="1279" r="9"/><circle cx="162" cy="1297" r="9"/><circle cx="117" cy="1318" r="9"/><circle cx="114" cy="1364" r="9"/><circle cx="90" cy="1404" r="9"/><circle cx="131" cy="1428" r="9"/><circle cx="110" cy="1462" r="9"/><circle cx="146" cy="1482" r="9"/><circle cx="188" cy="1499" r="9"/><circle cx="233" cy="1513" r="9"/><circle cx="274" cy="1545" r="9"/><circle cx="346" cy="1526" r="9"/><circle cx="480" cy="1539" r="12"/><circle cx="823" cy="1531" r="10"/><circle cx="872" cy="1558" r="10"/><circle cx="764" cy="1612" r="10"/><circle cx="256" cy="1642" r="9"/><circle cx="218" cy="1667" r="9"/><circle cx="181" cy="1688" r="9"/><circle cx="241" cy="1711" r="9"/><circle cx="210" cy="1737" r="9"/><circle cx="1106" cy="1693" r="8"/><circle cx="1870" cy="1739" r="14"/><circle cx="1742" cy="1809" r="9"/><circle cx="1742" cy="1836" r="9"/><circle cx="1563" cy="1884" r="9"/><circle cx="1518" cy="1926" r="10"/><circle cx="1587" cy="1963" r="9"/><circle cx="1633" cy="1985" r="9"/><circle cx="1550" cy="2005" r="9"/><circle cx="1602" cy="2023" r="9"/><circle cx="1634" cy="2041" r="9"/><circle cx="1475" cy="2046" r="9"/>
</g>
<g id="cluster-9" class="n9">
<circle cx="779" cy="627" r="9"/><circle cx="756" cy="641" r="9"/><circle cx="789" cy="657" r="9"/><circle cx="749" cy="675" r="9"/><circle cx="779" cy="700" r="9"/><circle cx="814" cy="724" r="9"/><circle cx="795" cy="756" r="9"/><circle cx="837" cy="789" r="9"/><circle cx="866" cy="859" r="10"/><circle cx="917" cy="953" r="9"/><circle cx="878" cy="995" r="9"/><circle cx="797" cy="969" r="9"/><circle cx="742" cy="930" r="9"/><circle cx="691" cy="953" r="9"/><circle cx="645" cy="980" r="9"/><circle cx="613" cy="1003" r="9"/><circle cx="556" cy="1031" r="9"/><circle cx="529" cy="1079" r="9"/><circle cx="489" cy="1141" r="9"/><circle cx="1034" cy="978" r="9"/><circle cx="1095" cy="995" r="9"/><circle cx="1210" cy="980" r="9"/><circle cx="1229" cy="1009" r="9"/><circle cx="1219" cy="1045" r="9"/>
</g>
<g id="cluster-skyblue" class="ns">
<circle cx="909" cy="295" r="9"/><circle cx="875" cy="317" r="9"/><circle cx="906" cy="326" r="9"/><circle cx="933" cy="315" r="9"/><circle cx="887" cy="357" r="9"/><circle cx="930" cy="366" r="9"/><circle cx="918" cy="411" r="10"/><circle cx="955" cy="435" r="9"/><circle cx="978" cy="473" r="9"/><circle cx="998" cy="529" r="10"/><circle cx="1031" cy="551" r="9"/><circle cx="1040" cy="589" r="9"/><circle cx="1147" cy="681" r="14"/><circle cx="1040" cy="698" r="9"/>
</g>
<g id="cluster-darkbrown" class="nk">
<circle cx="1257" cy="355" r="9"/><circle cx="1223" cy="389" r="9"/><circle cx="1252" cy="377" r="9"/><circle cx="1291" cy="404" r="9"/><circle cx="1241" cy="425" r="9"/><circle cx="1275" cy="454" r="9"/><circle cx="1225" cy="480" r="9"/><circle cx="1248" cy="518" r="9"/><circle cx="1252" cy="561" r="9"/><circle cx="1226" cy="596" r="9"/><circle cx="1243" cy="641" r="9"/><circle cx="1237" cy="665" r="9"/><circle cx="1195" cy="739" r="10"/><circle cx="1250" cy="810" r="12"/>
</g>
<g id="cluster-pink" class="np">
<circle cx="1423" cy="853" r="8"/><circle cx="1463" cy="838" r="8"/><circle cx="1484" cy="864" r="8"/><circle cx="1442" cy="879" r="8"/>
</g>
<g id="cluster-palegreen" class="nl">
<circle cx="2215" cy="2066" r="12"/><circle cx="2279" cy="2115" r="9"/><circle cx="2268" cy="2141" r="9"/><circle cx="2313" cy="2166" r="10"/><circle cx="2337" cy="2187" r="9"/><circle cx="2315" cy="2221" r="9"/><circle cx="2355" cy="2242" r="9"/><circle cx="2303" cy="2262" r="9"/><circle cx="2351" cy="2281" r="9"/><circle cx="2262" cy="2298" r="9"/><circle cx="2288" cy="2320" r="9"/><circle cx="2337" cy="2341" r="9"/>
</g>
<g id="cluster-10" class="n10">
<circle cx="1017" cy="2650" r="9"/><circle cx="991" cy="2683" r="9"/><circle cx="1040" cy="2703" r="9"/><circle cx="986" cy="2730" r="9"/><circle cx="1090" cy="2730" r="9"/><circle cx="1020" cy="2757" r="9"/><circle cx="1168" cy="2739" r="10"/><circle cx="1061" cy="2783" r="9"/><circle cx="1126" cy="2809" r="9"/><circle cx="1164" cy="2833" r="9"/><circle cx="1230" cy="2689" r="9"/><circle cx="1251" cy="2757" r="9"/><circle cx="1299" cy="2722" r="9"/><circle cx="1335" cy="2687" r="9"/><circle cx="1340" cy="2742" r="9"/><circle cx="1485" cy="2665" r="9"/><circle cx="1490" cy="2694" r="9"/><circle cx="1450" cy="2713" r="9"/><circle cx="1480" cy="2730" r="9"/><circle cx="1465" cy="2763" r="9"/><circle cx="1449" cy="2784" r="9"/>
</g>
<g id="isolated">
<circle cx="2187" cy="1800" r="8" fill="#a9c3e3"/><circle cx="2166" cy="1853" r="8" fill="#7b2440"/>
</g>
<g id="node-sdg"><circle class="n4" cx="1616" cy="1133" r="43"/><text class="lbl" x="1616" y="1252">sustainable</text><text class="lbl" x="1616" y="1320">development goal</text></g>
<g id="node-private-propriety"><circle class="n6" cx="1956" cy="1034" r="14"/><text class="lbl" x="1808" y="990">private propriety</text></g>
<g id="node-sustainable-tourism"><circle class="n8" cx="2229" cy="1172" r="21"/><text class="lbl" x="2207" y="1120">sustainable tourism</text></g>
<g id="node-ecosystem-service"><circle class="n3" cx="341" cy="1098" r="16"/><text class="lbl" x="296" y="966">ecosystem</text><text class="lbl" x="296" y="1032">service</text></g>
<g id="node-climate-change"><circle class="n9" cx="978" cy="1047" r="16"/><text class="lbl" x="655" y="1124">climate</text><text class="lbl" x="655" y="1191">change</text></g>
<g id="node-challenges"><circle class="n2" cx="816" cy="1961" r="13"/><text class="lbl" x="455" y="1962">challenges</text></g>
<g id="node-sustainable-cities"><circle class="n1" cx="1431" cy="1616" r="13"/><text class="lbl" x="1446" y="1664">sustainable</text><text class="lbl" x="1446" y="1732">cities</text></g>
<g id="node-cities"><circle class="n7" cx="1939" cy="1579" r="15"/><text class="lbl" x="1966" y="1542">cities</text></g>
<g id="node-city"><circle class="n5" cx="1803" cy="2050" r="14"/><text class="lbl" x="1842" y="2218">city</text></g>
<g id="node-health"><circle class="n10" cx="1262" cy="2633" r="14"/><text class="lbl" x="1299" y="2597">health</text></g>
</g>
<g id="legend">
<text x="18" y="2963" style="font-family:'Liberation Sans',Arial,sans-serif;font-weight:bold;font-size:56px" fill="#111">Legend</text>
<rect x="12" y="3027" width="66" height="66" fill="#0d6b4f"/><text class="lg" y="3080" fill="#217259"><tspan x="110">Cluster 1;</tspan><tspan x="391">sustainable cities</tspan></text>
<rect x="12" y="3121" width="66" height="66" fill="#f45b69"/><text class="lg" y="3174" fill="#e2626f"><tspan x="110">Cluster 2;</tspan><tspan x="391">challenges</tspan></text>
<rect x="12" y="3224" width="66" height="66" fill="#b86cc8"/><text class="lg" y="3277" fill="#b67ec7"><tspan x="117">Cluster 3;</tspan><tspan x="378">ecosystem service</tspan></text>
<rect x="12" y="3322" width="66" height="66" fill="#14c814"/><text class="lg" y="3375" fill="#2cb82c"><tspan x="110">Cluster 4;</tspan><tspan x="391">sustainable development goal</tspan></text>
<rect x="12" y="3413" width="66" height="66" fill="#0b4f6c"/><text class="lg" y="3466" fill="#1a4a66"><tspan x="110">Cluster 5;</tspan><tspan x="391">city</tspan></text>
<rect x="12" y="3504" width="66" height="66" fill="#87a5f0"/><text class="lg" y="3557" fill="#8ea5da"><tspan x="110">Cluster 6;</tspan><tspan x="391">private propriety</tspan></text>
<rect x="12" y="3595" width="66" height="66" fill="#19e2f0"/><text class="lg" y="3648" fill="#33cadd"><tspan x="110">Cluster 7;</tspan><tspan x="391">cities</tspan></text>
<rect x="12" y="3686" width="66" height="66" fill="#f0a00a"/><text class="lg" y="3739" fill="#d4a53c"><tspan x="110">Cluster 8;</tspan><tspan x="391">sustainable tourism</tspan></text>
<rect x="12" y="3777" width="66" height="66" fill="#b34f12"/><text class="lg" y="3830" fill="#a45a2e"><tspan x="110">Cluster 9;</tspan><tspan x="391">climate change</tspan></text>
<rect x="12" y="3877" width="66" height="66" fill="#a0cc0a"/><text class="lg" y="3930" fill="#9cc23c"><tspan x="110">Cluster 10;</tspan><tspan x="424">health</tspan></text>
</g>
</svg>
